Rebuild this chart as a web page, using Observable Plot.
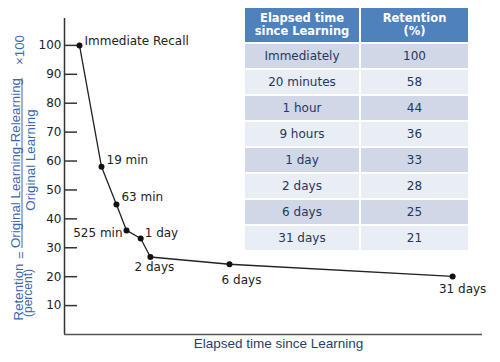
<!DOCTYPE html>
<html>
<head>
<meta charset="utf-8">
<script src="https://cdn.jsdelivr.net/npm/d3@7"></script>
<script src="https://cdn.jsdelivr.net/npm/@observablehq/plot@0.6"></script>
<style>
  html, body { margin: 0; padding: 0; background: #fff; }
  #wrap { position: relative; width: 500px; height: 362px; overflow: hidden; }
  #tbl { position: absolute; left: 243px; top: 6px; border-collapse: separate; border-spacing: 2px; font-family: "DejaVu Sans", sans-serif; font-size: 12px; }
  #tbl th { background: #4f81bd; color: #fff; font-weight: bold; font-size: 11.5px; line-height: 13px; height: 34px; padding: 0; text-align: center; }
  #tbl td { height: 24px; padding: 0; text-align: center; color: #26375c; }
  #tbl tr.odd td { background: #d0d8e8; }
  #tbl tr.even td { background: #e9edf4; }
</style>
</head>
<body>
<div id="wrap"></div>
<script>
// ---- Curve data ----
const labels = ["Immediate Recall", "19 min", "63 min", "525 min", "1 day", "2 days", "6 days", "31 days"];
const retention = [100, 58, 45, 36, 33.2, 26.8, 24.3, 20.1];
const xPos = [0, 5.9, 9.9, 12.6, 16.4, 19.0, 40.2, 100]; // relative horizontal position (no x ticks in source)
const yTicks = [10, 20, 30, 40, 50, 60, 70, 80, 90, 100];

// ---- Table data ----
const tableHeader = [["Elapsed time", "since Learning"], ["Retention", "(%)"]];
const tableTimes = ["Immediately", "20 minutes", "1 hour", "9 hours", "1 day", "2 days", "6 days", "31 days"];
const tableRetention = [100, 58, 44, 36, 33, 28, 25, 21];

const pts = labels.map((l, i) => ({label: l, x: xPos[i], y: retention[i], i}));

// label offsets (style only)
const offsets = [
  {dx: 5, dy: -4, anchor: "start"},
  {dx: 5, dy: -7, anchor: "start"},
  {dx: 5, dy: -7, anchor: "start"},
  {dx: -4, dy: 3, anchor: "end"},
  {dx: 4, dy: -5, anchor: "start"},
  {dx: 4, dy: 10, anchor: "middle"},
  {dx: 12, dy: 16, anchor: "middle"},
  {dx: 10, dy: 13, anchor: "middle"}
];

const xMin = -4.02, xMax = 108.0;

const marks = [
  Plot.ruleX([xMin], {y1: 0, y2: 109.3, stroke: "#333", strokeWidth: 1.5}),
  Plot.ruleY([0], {x1: xMin, x2: xMax, stroke: "#555", strokeWidth: 1.5}),
  Plot.axisY({ticks: yTicks, tickSize: 13, dx: 13, text: null, label: null, stroke: "#333", strokeWidth: 1.5}),
  Plot.axisY({ticks: yTicks, tickSize: 0, tickPadding: 3, label: null, fontSize: 12, fill: "#222"}),
  Plot.line(pts, {x: "x", y: "y", stroke: "#222", strokeWidth: 1.3}),
  Plot.dot(pts, {x: "x", y: "y", r: 3, fill: "#111", stroke: "none"}),
  ...offsets.map((o, k) => Plot.text(pts.filter(p => p.i === k), {
    x: "x", y: "y", text: "label", dx: o.dx, dy: o.dy, textAnchor: o.anchor,
    fontSize: 12, fill: "#222"
  })),
  Plot.text(["Elapsed time since Learning"], {
    frameAnchor: "bottom", dx: 5, dy: 13, fontSize: 13.5, fill: "#243f6e",
    fontFamily: "Liberation Sans, Arial, sans-serif"
  })
];

const svg = Plot.plot({
  width: 500,
  height: 362,
  marginTop: 18,
  marginLeft: 64,
  marginRight: 18,
  marginBottom: 28,
  style: {fontFamily: "DejaVu Sans, sans-serif", fontSize: "12px", background: "#fff"},
  x: {domain: [xMin, xMax], axis: null},
  y: {domain: [0, 109.3], axis: null},
  marks
});

// ---- composite y-axis label (formula) ----
const blue = "#3a67ae";
const g = d3.select(svg).append("g")
  .attr("fill", blue)
  .attr("font-family", "Liberation Sans, Arial, sans-serif");
function rtext(x, y, s, size) {
  g.append("text")
    .attr("transform", `translate(${x},${y}) rotate(-90)`)
    .attr("text-anchor", "middle")
    .attr("font-size", size)
    .text(s);
}
rtext(23, 292, "Retention", 13.3);
rtext(32, 293, "(percent)", 12);
rtext(25, 255, "=", 13.3);
rtext(20, 163, "Original Learning-Relearning", 13.3);
rtext(35, 160, "Original Learning", 13.3);
rtext(24, 50, "×100", 13.3);
g.append("line")
  .attr("x1", 22).attr("x2", 22).attr("y1", 78).attr("y2", 248)
  .attr("stroke", blue).attr("stroke-width", 1);

const wrap = document.getElementById("wrap");
wrap.appendChild(svg);

// ---- table ----
const table = document.createElement("table");
table.id = "tbl";
const thead = document.createElement("tr");
tableHeader.forEach((lines, j) => {
  const th = document.createElement("th");
  th.style.width = j === 0 ? "114px" : "107px";
  th.innerHTML = lines.join("<br>");
  thead.appendChild(th);
});
table.appendChild(thead);
tableTimes.forEach((t, i) => {
  const tr = document.createElement("tr");
  tr.className = i % 2 === 0 ? "odd" : "even";
  [t, String(tableRetention[i])].forEach(v => {
    const td = document.createElement("td");
    td.textContent = v;
    tr.appendChild(td);
  });
  table.appendChild(tr);
});
wrap.appendChild(table);
</script>
</body>
</html>
